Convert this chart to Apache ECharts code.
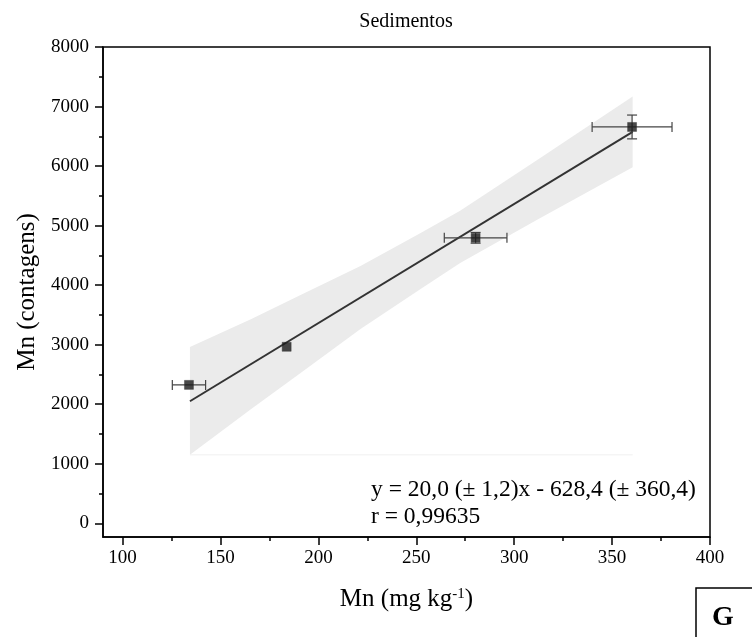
<!DOCTYPE html>
<html><head><meta charset="utf-8">
<script src="https://cdn.jsdelivr.net/npm/echarts@6/dist/echarts.min.js"></script>
<style>html,body{margin:0;padding:0;background:#fff}#c{width:752px;height:637px}</style>
</head><body><div id="c"></div>
<script>
// ---- data ----
const mnX = [133.9, 183.8, 280.3, 360.2];     // Mn (mg kg-1)
const mnY = [2325, 2965, 4795, 6657];         // Mn (contagens)
const xErr = [8.5, 0, 16, 20.4];
const yErr = [0, 0, 90, 200];
const fitX = [134.4, 360.5];
const fitY = [2050, 6575];
const bandX = [134.4, 165.5, 190.9, 221.5, 252, 272.4, 313.1, 360.5];
const bandUpper = [2963, 3428, 3836, 4322, 4873, 5248, 6130, 7170];
const bandLower = [1150, 1916, 2526, 3264, 3933, 4374, 5122, 5980];
const bandBaseY = [1150, 1150];
const xTicks = [100, 150, 200, 250, 300, 350, 400];
const xMinor = [125, 175, 225, 275, 325, 375];
const yTicks = [0, 1000, 2000, 3000, 4000, 5000, 6000, 7000, 8000];
const yMinor = [500, 1500, 2500, 3500, 4500, 5500, 6500, 7500];
const titleText = 'Sedimentos';
const eqText = 'y = 20,0 (\u00B1 1,2)x - 628,4 (\u00B1 360,4)';
const rText = 'r = 0,99635';
const panelLabel = 'G';

const FONT = '"Liberation Serif", "Times New Roman", serif';
const chart = echarts.init(document.getElementById('c'), null, {renderer: 'canvas'});

const plain = v => String(v);
const option = {
  animation: false,
  backgroundColor: '#fff',
  grid: {left: 103, right: 42, top: 47, bottom: 100, show: true, borderColor: '#000', borderWidth: 1.5, backgroundColor: 'transparent'},
  xAxis: [
    {
      type: 'value', min: 90, max: 400, position: 'bottom', splitLine: {show: false},
      axisLine: {show: true, onZero: false, lineStyle: {color: '#000', width: 1.5}},
      name: 'Mn (mg kg{sup|-1})', nameLocation: 'middle', nameGap: 50,
      nameTextStyle: {fontFamily: FONT, fontSize: 25, color: '#000',
        rich: {sup: {fontFamily: FONT, fontSize: 15, color: '#000', verticalAlign: 'top', padding: [0, 0, 10, 0]}}},
      axisTick: {show: true, inside: false, length: 8, customValues: xTicks, lineStyle: {color: '#000', width: 1.5}},
      axisLabel: {show: true, customValues: xTicks, formatter: plain, margin: 12, fontFamily: FONT, fontSize: 19, color: '#000'}
    },
    {
      type: 'value', min: 90, max: 400, position: 'bottom', splitLine: {show: false},
      axisLine: {show: false, onZero: false},
      axisTick: {show: true, inside: false, length: 4, customValues: xMinor, lineStyle: {color: '#000', width: 1.5}},
      axisLabel: {show: false}
    }
  ],
  yAxis: [
    {
      type: 'value', min: -230, max: 8000, position: 'left', splitLine: {show: false},
      axisLine: {show: true, onZero: false, lineStyle: {color: '#000', width: 1.5}},
      name: 'Mn (contagens)', nameLocation: 'middle', nameGap: 60,
      nameTextStyle: {fontFamily: FONT, fontSize: 25, color: '#000'},
      axisTick: {show: true, inside: false, length: 8, customValues: yTicks, lineStyle: {color: '#000', width: 1.5}},
      axisLabel: {show: true, customValues: yTicks, formatter: plain, margin: 14, fontFamily: FONT, fontSize: 19, color: '#000'}
    },
    {
      type: 'value', min: -230, max: 8000, position: 'left', splitLine: {show: false},
      axisLine: {show: false, onZero: false},
      axisTick: {show: true, inside: false, length: 4, customValues: yMinor, lineStyle: {color: '#000', width: 1.5}},
      axisLabel: {show: false}
    }
  ],
  series: [
    {
      name: 'band', type: 'custom', xAxisIndex: 0, yAxisIndex: 0, z: 1, silent: true,
      data: [0],
      renderItem: function (params, api) {
        const pts = [];
        for (let i = 0; i < bandX.length; i++) pts.push(api.coord([bandX[i], bandUpper[i]]));
        for (let i = bandX.length - 1; i >= 0; i--) pts.push(api.coord([bandX[i], bandLower[i]]));
        return {type: 'polygon', shape: {points: pts}, style: {fill: '#ebebeb', stroke: null}};
      }
    },
    {
      name: 'base', type: 'line', z: 2, silent: true, symbol: 'none',
      data: fitX.map((x, i) => [x, bandBaseY[i]]),
      lineStyle: {color: '#f0f0f0', width: 1}
    },
    {
      name: 'fit', type: 'line', z: 3, silent: true, symbol: 'none',
      data: fitX.map((x, i) => [x, fitY[i]]),
      lineStyle: {color: '#333', width: 2}
    },
    {
      name: 'errors', type: 'custom', z: 4, silent: true,
      data: mnX.map((x, i) => i),
      renderItem: function (params, api) {
        const i = api.value(0);
        const children = [];
        const st = {stroke: '#444', lineWidth: 1.2};
        const cap = 5;
        if (xErr[i] > 0) {
          const a = api.coord([mnX[i] - xErr[i], mnY[i]]);
          const b = api.coord([mnX[i] + xErr[i], mnY[i]]);
          children.push({type: 'line', shape: {x1: a[0], y1: a[1], x2: b[0], y2: b[1]}, style: st});
          children.push({type: 'line', shape: {x1: a[0], y1: a[1] - cap, x2: a[0], y2: a[1] + cap}, style: st});
          children.push({type: 'line', shape: {x1: b[0], y1: b[1] - cap, x2: b[0], y2: b[1] + cap}, style: st});
        }
        if (yErr[i] > 0) {
          const a = api.coord([mnX[i], mnY[i] - yErr[i]]);
          const b = api.coord([mnX[i], mnY[i] + yErr[i]]);
          children.push({type: 'line', shape: {x1: a[0], y1: a[1], x2: b[0], y2: b[1]}, style: st});
          children.push({type: 'line', shape: {x1: a[0] - cap, y1: a[1], x2: a[0] + cap, y2: a[1]}, style: st});
          children.push({type: 'line', shape: {x1: b[0] - cap, y1: b[1], x2: b[0] + cap, y2: b[1]}, style: st});
        }
        return {type: 'group', children: children};
      }
    },
    {
      name: 'points', type: 'scatter', z: 5, silent: true,
      symbol: 'rect', symbolSize: 9,
      data: mnX.map((x, i) => [x, mnY[i]]),
      itemStyle: {color: '#1a1a1a', borderColor: '#333', borderWidth: 0.5}
    }
  ],
  graphic: [
    {type: 'text', x: 406, y: 22, style: {text: titleText, fontFamily: FONT, fontSize: 20, fill: '#000', textAlign: 'center', textVerticalAlign: 'middle'}},
    {type: 'text', x: 371, y: 490, style: {text: eqText, fontFamily: FONT, fontSize: 23.5, fill: '#000', textAlign: 'left', textVerticalAlign: 'middle'}},
    {type: 'text', x: 371, y: 517, style: {text: rText, fontFamily: FONT, fontSize: 23.5, fill: '#000', textAlign: 'left', textVerticalAlign: 'middle'}},
    {type: 'rect', shape: {x: 696, y: 588, width: 80, height: 80}, style: {fill: 'none', stroke: '#000', lineWidth: 1.5}},
    {type: 'text', x: 723, y: 618, style: {text: panelLabel, fontFamily: FONT, fontSize: 28, fontWeight: 'bold', fill: '#000', textAlign: 'center', textVerticalAlign: 'middle'}}
  ]
};
chart.setOption(option);
</script>
</body></html>
